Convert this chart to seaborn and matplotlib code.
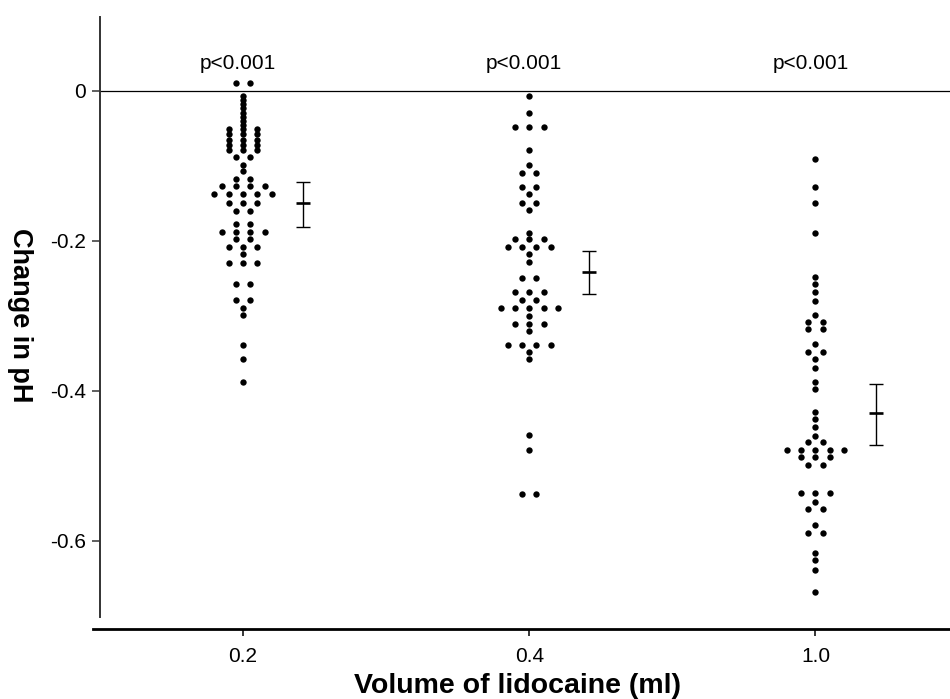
import numpy as np
import pandas as pd
import matplotlib
matplotlib.use("Agg")
import matplotlib.pyplot as plt
import seaborn as sns
from matplotlib import font_manager as fm

# ---------------- data ----------------
volumes = ["0.2", "0.4", "1.0"]

change_02 = [0.011, 0.011,
             -0.007, -0.012, -0.018, -0.023, -0.029, -0.035, -0.040, -0.046,
             -0.051, -0.051, -0.051, -0.058, -0.058, -0.058,
             -0.065, -0.065, -0.065, -0.072, -0.072, -0.072,
             -0.079, -0.079, -0.079,
             -0.088, -0.088, -0.099, -0.107, -0.118, -0.118,
             -0.127, -0.127, -0.127, -0.127,
             -0.138, -0.138, -0.138, -0.138, -0.138,
             -0.149, -0.149, -0.149, -0.160, -0.160,
             -0.178, -0.178, -0.188, -0.188, -0.188, -0.188,
             -0.197, -0.197, -0.208, -0.208, -0.208, -0.218,
             -0.229, -0.229, -0.229,
             -0.257, -0.257, -0.279, -0.279, -0.289, -0.299,
             -0.339, -0.357, -0.388]

change_04 = [-0.007, -0.029, -0.048, -0.048, -0.048, -0.079, -0.099,
             -0.109, -0.109, -0.128, -0.128, -0.138, -0.149, -0.149, -0.159,
             -0.189, -0.198, -0.198, -0.198, -0.208, -0.208, -0.208, -0.208,
             -0.217, -0.228, -0.249, -0.249, -0.268, -0.268, -0.268,
             -0.279, -0.279, -0.289, -0.289, -0.289, -0.289, -0.289,
             -0.300, -0.311, -0.311, -0.311, -0.320,
             -0.339, -0.339, -0.339, -0.339, -0.348, -0.357,
             -0.459, -0.479, -0.538, -0.538]

change_10 = [-0.091, -0.128, -0.149, -0.190, -0.248, -0.258, -0.268, -0.280,
             -0.299, -0.308, -0.308, -0.318, -0.318, -0.338, -0.348, -0.348,
             -0.358, -0.370, -0.388, -0.398, -0.428, -0.438, -0.448, -0.460,
             -0.468, -0.468, -0.479, -0.479, -0.479, -0.479, -0.479,
             -0.488, -0.488, -0.488, -0.499, -0.499,
             -0.536, -0.536, -0.536, -0.548, -0.558, -0.558,
             -0.579, -0.590, -0.590, -0.616, -0.626, -0.639, -0.668]

means = [-0.150, -0.242, -0.430]
ci_upper = [-0.121, -0.213, -0.391]
ci_lower = [-0.181, -0.271, -0.472]
p_labels = ["p<0.001", "p<0.001", "p<0.001"]
y_ticks = [0, -0.2, -0.4, -0.6]
y_ticklabels = ["0", "-0.2", "-0.4", "-0.6"]

# ---------------- table ----------------
frames = []
for i, vals in enumerate([change_02, change_04, change_10]):
    frames.append(pd.DataFrame({"group": i, "volume": volumes[i], "change": vals}))
df = pd.concat(frames, ignore_index=True)
# Prism-style scatter: equal values are spread symmetrically side by side
rank = df.groupby(["group", "change"]).cumcount()
count = df.groupby(["group", "change"])["change"].transform("size")
spread = 0.05
df["xpos"] = df["group"] + (rank - (count - 1) / 2.0) * spread

# ---------------- style ----------------
sns.set_style("ticks")
names = {f.name for f in fm.fontManager.ttflist}
base = "Liberation Sans" if "Liberation Sans" in names else "DejaVu Sans"
plt.rcParams["font.family"] = [base, "DejaVu Sans"]
plt.rcParams["text.color"] = "black"
plt.rcParams["axes.labelcolor"] = "black"

W, H = 950, 699
fig = plt.figure(figsize=(W / 100, H / 100), dpi=100)
ax = fig.add_axes([100 / W, 1 - 616.7 / H, (W - 100) / W, (616.7 - 16.5) / H])

# spines first (repositioning a spine resets the ticks)
for s in ["top", "right"]:
    ax.spines[s].set_visible(False)
ax.spines["left"].set_color("#333333")
ax.spines["left"].set_linewidth(1.4)
ax.spines["bottom"].set_position(("outward", 9.1))
ax.spines["bottom"].set_linewidth(2.0)
ax.spines["bottom"].set_color("black")

sns.scatterplot(data=df, x="xpos", y="change", color="black", s=21,
                linewidth=0, ax=ax, legend=False, zorder=3)

# mean with 95% CI
ex = np.arange(3) + 0.21
m = np.array(means)
yerr = np.vstack([m - np.array(ci_lower), np.array(ci_upper) - m])
ax.errorbar(ex, m, yerr=yerr, fmt="none", ecolor="black", elinewidth=1.0,
            capsize=4.8, capthick=1.0, zorder=3)
ax.plot(ex, m, linestyle="none", marker="_", markersize=9.6,
        markeredgewidth=1.9, color="black", zorder=4)

ax.axhline(0, color="black", lw=0.9, zorder=2)

for i, lab in enumerate(p_labels):
    ax.text(i - 0.018, 0.0295, lab, ha="center", va="baseline", fontsize=15,
            color="black")

ax.set_xlim(-0.5, 2.47)
ax.set_ylim(-0.701, 0.099)
ax.spines["bottom"].set_bounds(-0.525, 2.47)
ax.set_yticks(y_ticks)
ax.set_yticklabels(y_ticklabels)
ax.set_xticks([0, 1, 2])
ax.set_xticklabels(volumes)
ax.set_xlabel("")
ax.set_ylabel("")

ax.tick_params(axis="y", length=5.5, width=1.1, color="#333333", pad=4.5,
               labelcolor="black", labelsize=15)
ax.tick_params(axis="x", length=5, width=1.1, color="black", pad=8,
               labelcolor="black", labelsize=15)

fig.text(518 / W, 6 / H, "Volume of lidocaine (ml)", ha="center",
         va="baseline", fontsize=20.5, fontweight="bold", color="black")
fig.text(20 / W, 1 - 315 / H, "Change in pH", rotation=270, ha="center",
         va="center", fontsize=19.5, fontweight="bold", color="black")

fig.savefig("out.png", dpi=100)
